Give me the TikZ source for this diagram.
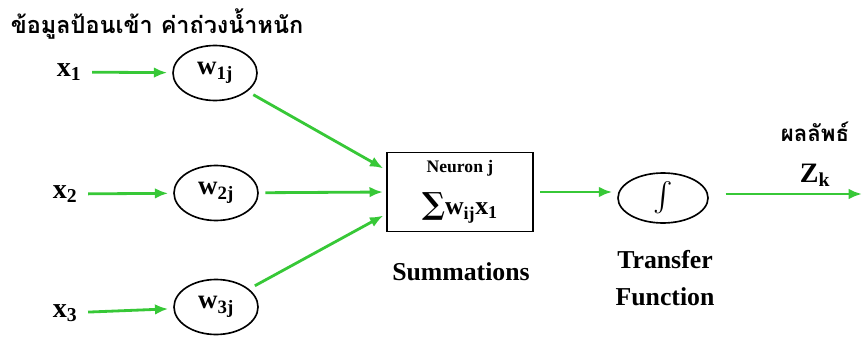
\documentclass[tikz,border=0pt]{standalone}
\usepackage{amsmath}
\usepackage{fontspec}
\setmainfont{Liberation Serif}
\newfontfamily\thaifont[Script=Thai]{Loma}
\newfontfamily\symfont{DejaVu Serif}
\usepackage{xcolor}
\usetikzlibrary{arrows.meta,shapes.geometric,calc}

\definecolor{linkgreen}{RGB}{55,200,55}

\begin{document}
\begin{tikzpicture}[
        x=0.3mm, y=-0.3mm,
        weight/.style={draw, ellipse, line width=1.4pt, minimum width=25.2mm, minimum height=16.5mm, inner sep=0pt, font=\fontsize{23}{26}\selectfont\bfseries},
        inlabel/.style={font=\fontsize{24}{26}\selectfont\bfseries},
        caption/.style={font=\fontsize{22}{31}\selectfont\bfseries, align=center},
        link/.style={draw=linkgreen, line width=2.4pt, -{Latex[length=4mm,width=3.2mm]}},
        >=Latex
    ]
        \useasboundingbox (0,0) rectangle (862,338);

        % titles
        \node[font=\thaifont\fontsize{20}{22}\selectfont\bfseries] (titlein) at (157,24) {ข้อมูลป้อนเข้า ค่าถ่วงน้ำหนัก};
        \node[font=\thaifont\fontsize{19}{22}\selectfont\bfseries] (titleout) at (815,132) {ผลลัพธ์};
        \node[inlabel] (zk) at (815,175) {Z$_{\mathbf{k}}$};

        % inputs
        \node[inlabel] (x1) at (69,72) {x$_{\mathbf{1}}$};
        \node[inlabel] (x2) at (65,194) {x$_{\mathbf{2}}$};
        \node[inlabel] (x3) at (65,313) {x$_{\mathbf{3}}$};

        % weights
        \node[weight] (w1) at (215,73) {w$_{\mathbf{1j}}$};
        \node[weight] (w2) at (216,193) {w$_{\mathbf{2j}}$};
        \node[weight] (w3) at (216,307) {w$_{\mathbf{3j}}$};

        % neuron
        \node[draw, line width=1.4pt, minimum width=43.8mm, minimum height=23.7mm] (sum) at (460,192) {};
        \node[font=\fontsize{15}{17}\selectfont\bfseries, inner sep=1pt] (neuron) at (460,168) {Neuron j};
        \node[font=\fontsize{22}{24}\selectfont\bfseries, inner sep=1pt] (formula) at (460,208)
            {{\symfont\fontsize{26}{28}\selectfont ∑}w$_{\mathbf{ij}}$x$_{\mathbf{1}}$};
        \node[caption] (sumtext) at (461,272) {Summations};

        % transfer
        \node[draw, ellipse, line width=1.4pt, minimum width=27mm, minimum height=15mm, inner sep=0pt, font=\fontsize{30}{32}\selectfont] (transfer) at (663,198) {$\boldsymbol{\int}$};
        \node[caption] (transfertext) at (665,278) {Transfer\\Function};
        \coordinate (out) at (862,194);

        \draw[link, shorten <=2mm, shorten >=1.5mm] (x1) -- (w1);
        \draw[link, shorten <=2mm, shorten >=1.5mm] (x2) -- (w2);
        \draw[link, shorten <=2mm, shorten >=1.5mm] (x3) -- (w3);
        \draw[link, shorten <=2mm, shorten >=1mm] (w1) -- ([yshift=6.6mm]sum.west);
        \draw[link, shorten <=2mm, shorten >=1mm] (w2) -- (sum.west);
        \draw[link, shorten <=2mm, shorten >=1mm] (w3) -- ([yshift=-6.6mm]sum.west);
        \draw[link, shorten <=2mm, shorten >=1.5mm] (sum.east) -- (transfer.west |- sum.east);
        \draw[link, shorten <=5mm] (transfer.east |- out) -- (out);
    \end{tikzpicture}
\end{document}
